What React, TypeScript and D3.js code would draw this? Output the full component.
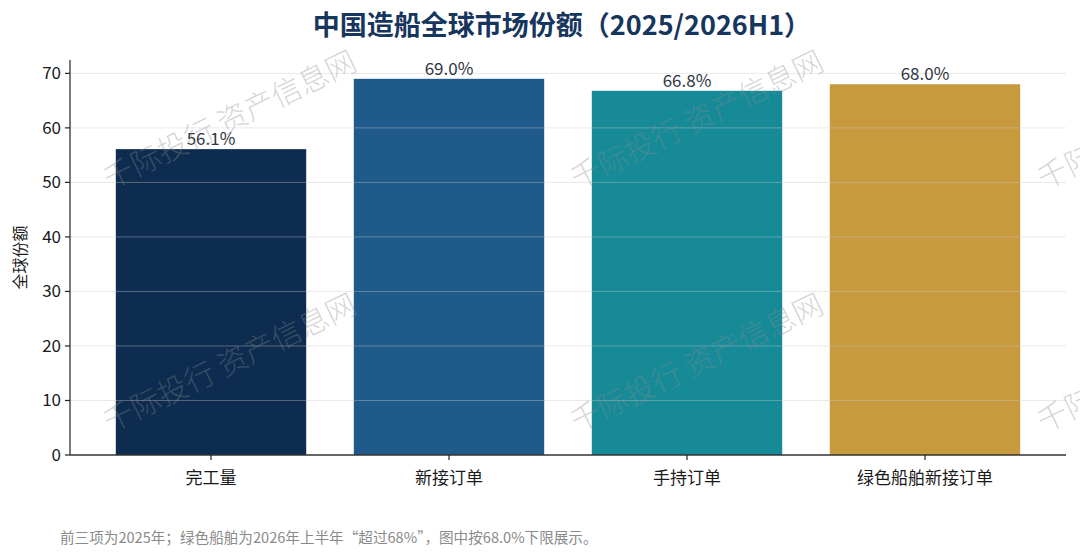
import * as d3 from 'd3';

const categories = ['完工量', '新接订单', '手持订单', '绿色船舶新接订单'];
const shares = [56.1, 69.0, 66.8, 68.0];
const yTicks = [0, 10, 20, 30, 40, 50, 60, 70];

const title = '中国造船全球市场份额（2025/2026H1）';
const yLabel = '全球份额';
const footnote = '前三项为2025年；绿色船舶为2026年上半年“超过68%”，图中按68.0%下限展示。';
const watermark = '千际投行 资产信息网';

const palette = ['#0e2c4f', '#1f5a8b', '#178a98', '#c79a3d'];

const W = 1080;
const H = 560;
const margin = { top: 60, right: 14, bottom: 105, left: 70 };
const FONT = '"Noto Sans CJK SC", "Noto Sans", sans-serif';

export default function App() {
  const innerRight = W - margin.right;
  const baseY = H - margin.bottom;

  const x = d3
    .scaleBand<string>()
    .domain(categories)
    .range([margin.left, innerRight])
    .paddingInner(0.2)
    .paddingOuter(0.1925);

  const y = d3
    .scaleLinear()
    .domain([0, d3.max(shares)! * 1.05])
    .range([baseY, margin.top]);

  // watermark grid (decoration only)
  const wmCols = d3.range(3).map((i) => 110 + i * 467);
  const wmRows = d3.range(2).map((j) => 190 + j * 243);

  return (
    <svg
      width={W}
      height={H}
      style={{ position: 'absolute', left: 0, top: 0, display: 'block', background: '#fff' }}
      fontFamily={FONT}
    >
      <rect width={W} height={H} fill="#fff" />

      <text
        x={(margin.left + innerRight) / 2 - 6}
        y={35}
        textAnchor="middle"
        fontSize={27}
        fontWeight={700}
        fill="#17365d"
      >
        {title}
      </text>

      {categories.map((c, i) => (
        <rect
          key={c}
          x={x(c)}
          y={y(shares[i])}
          width={x.bandwidth()}
          height={baseY - y(shares[i])}
          fill={palette[i]}
        />
      ))}

      {yTicks.slice(1).map((t) => (
        <line
          key={t}
          x1={margin.left}
          x2={innerRight}
          y1={y(t)}
          y2={y(t)}
          stroke="#c8c8c8"
          strokeOpacity={0.4}
          strokeWidth={1}
        />
      ))}

      {categories.map((c, i) => (
        <text
          key={c}
          x={x(c)! + x.bandwidth() / 2}
          y={y(shares[i]) - 4}
          textAnchor="middle"
          fontSize={17}
          fill="#2e3440"
        >
          {d3.format('.1f')(shares[i])}%
        </text>
      ))}

      <line x1={margin.left} x2={margin.left} y1={margin.top} y2={baseY} stroke="#222" strokeWidth={1.2} />
      <line x1={margin.left} x2={innerRight} y1={baseY} y2={baseY} stroke="#333" strokeWidth={1.4} />

      {yTicks.map((t) => (
        <g key={t} transform={`translate(${margin.left},${y(t)})`}>
          <line x1={-5} x2={0} stroke="#222" strokeWidth={1.2} />
          <text x={-9} dy="0.35em" textAnchor="end" fontSize={17} fill="#1a1a1a">
            {t}
          </text>
        </g>
      ))}

      {categories.map((c) => (
        <g key={c} transform={`translate(${x(c)! + x.bandwidth() / 2},${baseY})`}>
          <line y1={0} y2={5} stroke="#222" strokeWidth={1.2} />
          <text y={29} textAnchor="middle" fontSize={17} fill="#1a1a1a">
            {c}
          </text>
        </g>
      ))}

      <text
        transform={`translate(26,${(margin.top + baseY) / 2}) rotate(-90)`}
        textAnchor="middle"
        fontSize={16}
        fill="#1a1a1a"
      >
        {yLabel}
      </text>

      <text x={60} y={543} fontSize={14.6} fill="#8a8a8a">
        {footnote}
      </text>

      {wmCols.map((wx) =>
        wmRows.map((wy) => (
          <text
            key={`${wx}-${wy}`}
            transform={`translate(${wx},${wy}) rotate(-26)`}
            fontSize={30}
            fontWeight={300}
            fill="#8a8a8a"
            fillOpacity={0.36}
          >
            {watermark}
          </text>
        ))
      )}
    </svg>
  );
}
